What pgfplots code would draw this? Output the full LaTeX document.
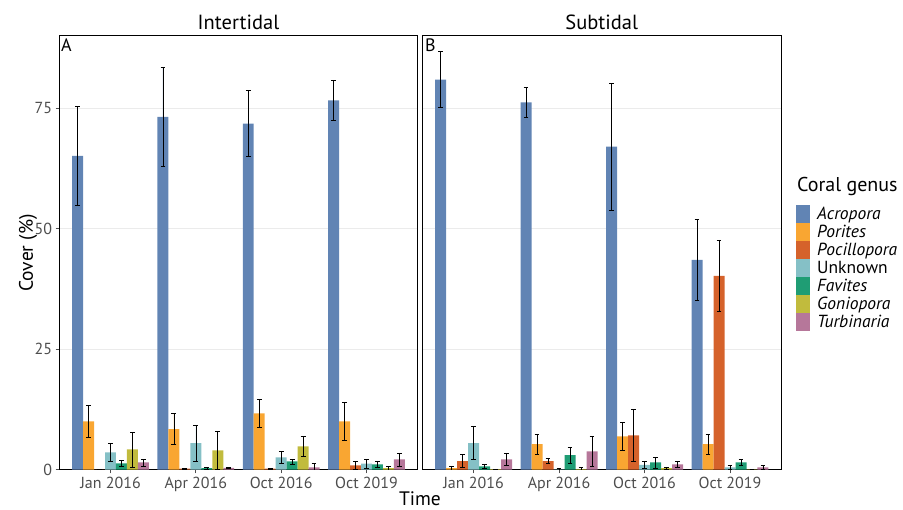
\documentclass[border=0pt]{standalone}
\usepackage{pgfplots}
\usepackage{pgfplotstable}
\pgfplotsset{compat=1.18}
\usepackage{fontspec}
\setmainfont{PT Sans}
\definecolor{cAcr}{RGB}{97,132,180}
\definecolor{cPor}{RGB}{249,166,50}
\definecolor{cPoc}{RGB}{213,98,43}
\definecolor{cUnk}{RGB}{133,192,198}
\definecolor{cFav}{RGB}{31,157,116}
\definecolor{cGon}{RGB}{193,187,61}
\definecolor{cTur}{RGB}{182,119,154}
\definecolor{tickgray}{RGB}{77,77,77}

\pgfplotstableread{
x acr acrse por porse poc pocse unk unkse fav favse gon gonse tur turse
1 65.1 10.3 10.0 3.3 0.0 0.1 3.6 1.85 1.3 0.6 4.2 3.6 1.5 0.7
2 73.2 10.3 8.4 3.2 0.2 0.1 5.5 3.8 0.3 0.2 4.0 3.9 0.4 0.1
3 71.8 6.8 11.7 3.0 0.2 0.1 2.55 1.25 1.7 0.55 4.85 2.0 0.5 0.75
4 76.6 4.2 10.0 3.9 0.9 0.8 1.25 0.9 1.1 0.7 0.3 0.35 2.15 1.35
}\intertidal

\pgfplotstableread{
x acr acrse por porse poc pocse unk unkse fav favse gon gonse tur turse
1 80.9 5.8 0.3 0.5 1.8 1.3 5.5 3.4 0.7 0.5 0.1 0.05 2.15 1.3
2 76.2 3.05 5.3 2.05 1.8 0.5 0.05 0.2 3.0 1.6 0.1 0.3 3.8 3.1
3 67.0 13.2 6.9 2.9 7.1 5.45 1.0 0.7 1.5 1.15 0.3 0.3 1.1 0.7
4 43.5 8.4 5.3 2.05 40.2 7.45 0.5 0.35 1.5 0.65 0.05 0.05 0.5 0.5
}\subtidal

\newcommand{\bars}[1]{%
\addplot[fill=cAcr, draw=none, bar shift=-0.385714] table[x=x,y=acr,y error=acrse]{#1};
\addplot[fill=cPor, draw=none, bar shift=-0.257143] table[x=x,y=por,y error=porse]{#1};
\addplot[fill=cPoc, draw=none, bar shift=-0.128571] table[x=x,y=poc,y error=pocse]{#1};
\addplot[fill=cUnk, draw=none, bar shift=0] table[x=x,y=unk,y error=unkse]{#1};
\addplot[fill=cFav, draw=none, bar shift=0.128571] table[x=x,y=fav,y error=favse]{#1};
\addplot[fill=cGon, draw=none, bar shift=0.257143] table[x=x,y=gon,y error=gonse]{#1};
\addplot[fill=cTur, draw=none, bar shift=0.385714] table[x=x,y=tur,y error=turse]{#1};
}

\pgfplotsset{
  panel/.style={
    scale only axis,
    anchor=south west,
    height=434.4pt,
    xmin=0.4, xmax=4.6, ymin=0, ymax=90.1,
    ybar, bar width=0.128571,
    axis line style={black, line width=0.7pt},
    xtick={1,2,3,4},
    xticklabels={Jan 2016, Apr 2016, Oct 2016, Oct 2019},
    ytick={0,25,50,75},
    tick align=outside,
    major tick length=3.6pt,
    xtick pos=bottom,
    ytick pos=left,
    tick style={tickgray, line width=0.7pt},
    ymajorgrids,
    major grid style={color=black!8, line width=0.8pt},
    every x tick label/.append style={font=\fontsize{16}{19}\selectfont, text=tickgray},
    every y tick label/.append style={font=\fontsize{16}{19}\selectfont, text=tickgray},
    /pgf/number format/assume math mode=true,
    error bars/y dir=both,
    error bars/y explicit,
    error bars/error mark=|,
    error bars/error bar style={draw=black, line width=0.6pt},
    error bars/error mark options={draw=black, mark size=2.4pt, line width=0.6pt},
  }
}

\begin{document}
\begin{tikzpicture}[x=1pt,y=1pt]
\path (0,0) rectangle (903,510);

\begin{axis}[panel, at={(59.3pt,40.3pt)}, width=358.4pt]
\bars{\intertidal}
\end{axis}

\begin{axis}[panel, at={(422.3pt,40.3pt)}, width=359pt,
  yticklabels={}, ytick style={draw=none}]
\bars{\subtidal}
\end{axis}

% strip titles and panel letters
\node[anchor=base, inner sep=0, font=\fontsize{20.5}{24}\selectfont] at (238.5,480) {Intertidal};
\node[anchor=base, inner sep=0, font=\fontsize{20.5}{24}\selectfont] at (601.8,480) {Subtidal};
\node[anchor=base west, inner sep=0, font=\fontsize{18}{21}\selectfont] at (61,458) {A};
\node[anchor=base west, inner sep=0, font=\fontsize{18}{21}\selectfont] at (425,458) {B};

% axis titles
\node[anchor=base, inner sep=0, font=\fontsize{19.5}{23}\selectfont] at (420,4) {Time};
\node[anchor=center, inner sep=0, rotate=90, font=\fontsize{19.5}{23}\selectfont] at (28,257) {Cover (\%)};

% legend
\node[anchor=base west, inner sep=0, font=\fontsize{20}{24}\selectfont] at (797,318.5) {Coral genus};
\foreach \c/\t/\i in {cAcr/\textit{Acropora}/0, cPor/\textit{Porites}/1, cPoc/\textit{Pocillopora}/2, cUnk/Unknown/3, cFav/\textit{Favites}/4, cGon/\textit{Goniopora}/5, cTur/\textit{Turbinaria}/6}{
  \fill[\c] (796,{305-18*\i}) rectangle (810,{287-18*\i});
  \node[anchor=base west, inner sep=0, font=\fontsize{17.5}{20}\selectfont] at (817,{290.5-18*\i}) {\t};
}
\end{tikzpicture}
\end{document}
